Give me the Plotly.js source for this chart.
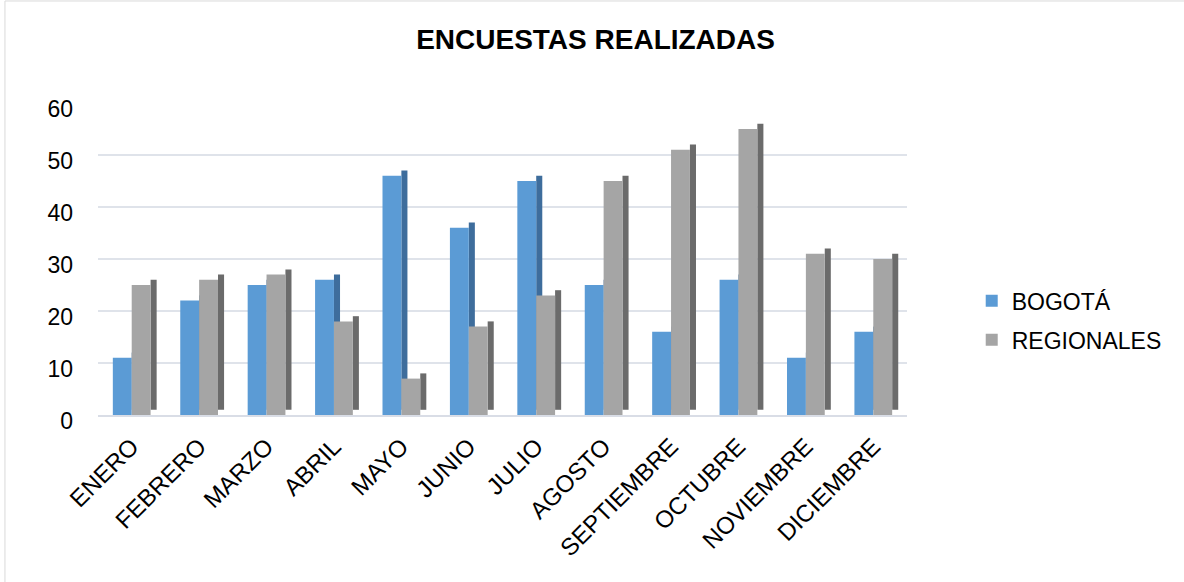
<!DOCTYPE html>
<html>
<head>
<meta charset="utf-8">
<script src="https://cdn.plot.ly/plotly-3.0.1.min.js"></script>
<style>
  html, body { margin: 0; padding: 0; background: #fff; }
  #chart { width: 1184px; height: 582px; }
</style>
</head>
<body>
<div id="chart"></div>
<script>
var meses = ['ENERO', 'FEBRERO', 'MARZO', 'ABRIL', 'MAYO', 'JUNIO',
  'JULIO', 'AGOSTO', 'SEPTIEMBRE', 'OCTUBRE', 'NOVIEMBRE', 'DICIEMBRE'];
var bogota = [11, 22, 25, 26, 46, 36, 45, 25, 16, 26, 11, 16];
var regionales = [25, 26, 27, 18, 7, 17, 23, 45, 51, 55, 31, 30];

var fuente = 'Liberation Sans, Arial, sans-serif';

// caras frontales
var trace1 = {
  x: meses, y: bogota, type: 'bar', name: 'BOGOTÁ',
  offset: -0.28, width: 0.28,
  marker: {color: '#5b9bd5'},
  legendgroup: 'a'
};
var trace2 = {
  x: meses, y: regionales, type: 'bar', name: 'REGIONALES',
  offset: 0, width: 0.28,
  marker: {color: '#a5a5a5'},
  legendgroup: 'b'
};
// caras laterales (efecto 3D)
var side1 = {
  x: meses, y: bogota, base: 1, type: 'bar',
  offset: 0, width: 0.09,
  marker: {color: '#3e6d9c'},
  showlegend: false, hoverinfo: 'skip'
};
var side2 = {
  x: meses, y: regionales, base: 1, type: 'bar',
  offset: 0.28, width: 0.09,
  marker: {color: '#6b6b6b'},
  showlegend: false, hoverinfo: 'skip'
};

var data = [side1, trace1, side2, trace2];

var layout = {
  width: 1184, height: 582,
  margin: {l: 98, r: 277, t: 103, b: 167},
  paper_bgcolor: '#fff', plot_bgcolor: '#fff',
  barmode: 'overlay',
  font: {family: fuente, size: 23, color: '#000'},
  title: {
    text: '<b>ENCUESTAS REALIZADAS</b>',
    font: {family: fuente, size: 28, color: '#000'},
    x: 0.503, xanchor: 'center',
    y: 0.932, yanchor: 'middle'
  },
  xaxis: {
    type: 'category',
    tickangle: -45,
    ticklabelstandoff: 6,
    showgrid: false,
    showline: true, linecolor: '#d9dde6', linewidth: 2,
    tickfont: {size: 24}
  },
  yaxis: {
    range: [0, 60],
    dtick: 10,
    gridcolor: '#dfe3ea', gridwidth: 2,
    zeroline: false,
    ticklabelstandoff: 24,
    ticklabelshift: 6,
    tickfont: {size: 23}
  },
  legend: {
    x: 1.08, xanchor: 'left',
    y: 0.435, yanchor: 'top',
    traceorder: 'grouped',
    tracegroupgap: 6,
    font: {size: 23}
  },
  shapes: [{
    type: 'rect', xref: 'paper', yref: 'paper',
    x0: -0.115, x1: 1.6, y0: -1, y1: 1.327,
    line: {color: '#d9d9d9', width: 1}
  }]
};

Plotly.newPlot('chart', data, layout, {staticPlot: true});
</script>
</body>
</html>
